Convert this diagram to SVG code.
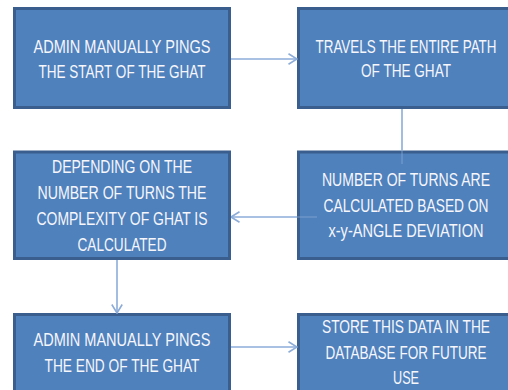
<svg xmlns="http://www.w3.org/2000/svg" width="508" height="390" viewBox="0 0 508 390">
  <defs>
    <style>
      .box { fill: #4f81bd; stroke: #3a5f8e; stroke-width: 3; }
      .lbl { font-family: "Liberation Sans", Arial, sans-serif; font-size: 18.5px; fill: #f6f6fb; text-anchor: middle; }
      .con { fill: none; stroke: #8cacd8; stroke-width: 1.6; }
      .inner { stroke-opacity: 0.45; }
    </style>
    <marker id="open" viewBox="0 0 10 12" refX="9.5" refY="6" markerWidth="10" markerHeight="12" markerUnits="userSpaceOnUse" orient="auto">
      <path d="M1,0.8 L9.5,6 L1,11.2" fill="none" stroke="#8cacd8" stroke-width="1.6"/>
    </marker>
  </defs>
  <rect width="508" height="390" fill="#ffffff"/>

  <g id="admin-start">
    <rect class="box" x="14.5" y="8.5" width="215" height="99"/>
    <text class="lbl" x="122" y="53" textLength="177" lengthAdjust="spacingAndGlyphs">ADMIN MANUALLY PINGS</text>
    <text class="lbl" x="122" y="78" textLength="167" lengthAdjust="spacingAndGlyphs">THE START OF THE GHAT</text>
  </g>

  <g id="travel-path">
    <rect class="box" x="298.5" y="8.5" width="211" height="99"/>
    <text class="lbl" x="406" y="53" textLength="181" lengthAdjust="spacingAndGlyphs">TRAVELS THE ENTIRE PATH</text>
    <text class="lbl" x="406" y="77" textLength="90" lengthAdjust="spacingAndGlyphs">OF THE GHAT</text>
  </g>

  <g id="complexity">
    <rect class="box" x="14.5" y="152" width="215" height="106.5"/>
    <text class="lbl" x="122" y="173" textLength="140" lengthAdjust="spacingAndGlyphs">DEPENDING ON THE</text>
    <text class="lbl" x="122" y="199" textLength="169" lengthAdjust="spacingAndGlyphs">NUMBER OF TURNS THE</text>
    <text class="lbl" x="122" y="225" textLength="171" lengthAdjust="spacingAndGlyphs">COMPLEXITY OF GHAT IS</text>
    <text class="lbl" x="122" y="251" textLength="89" lengthAdjust="spacingAndGlyphs">CALCULATED</text>
  </g>

  <g id="turns">
    <rect class="box" x="298.5" y="152" width="211" height="106.5"/>
    <text class="lbl" x="406" y="186" textLength="168" lengthAdjust="spacingAndGlyphs">NUMBER OF TURNS ARE</text>
    <text class="lbl" x="406" y="212" textLength="165" lengthAdjust="spacingAndGlyphs">CALCULATED BASED ON</text>
    <text class="lbl" x="406" y="237" textLength="155" lengthAdjust="spacingAndGlyphs">x-y-ANGLE DEVIATION</text>
  </g>

  <g id="admin-end">
    <rect class="box" x="14.5" y="314.5" width="215" height="77"/>
    <text class="lbl" x="122" y="346" textLength="177" lengthAdjust="spacingAndGlyphs">ADMIN MANUALLY PINGS</text>
    <text class="lbl" x="122" y="372" textLength="155" lengthAdjust="spacingAndGlyphs">THE END OF THE GHAT</text>
  </g>

  <g id="store">
    <rect class="box" x="298.5" y="314.5" width="211" height="77"/>
    <text class="lbl" x="406" y="333" textLength="168" lengthAdjust="spacingAndGlyphs">STORE THIS DATA IN THE</text>
    <text class="lbl" x="406" y="359" textLength="161" lengthAdjust="spacingAndGlyphs">DATABASE FOR FUTURE</text>
    <text class="lbl" x="406" y="384" textLength="26" lengthAdjust="spacingAndGlyphs">USE</text>
  </g>

  <g id="connectors">
    <line class="con" x1="231" y1="59" x2="297" y2="59" marker-end="url(#open)"/>
    <line class="con" x1="402" y1="109" x2="402" y2="151"/>
    <line class="con inner" x1="402" y1="151" x2="402" y2="164"/>
    <line class="con inner" x1="317" y1="217" x2="297" y2="217"/>
    <line class="con" x1="297" y1="217" x2="231" y2="217" marker-end="url(#open)"/>
    <line class="con" x1="117" y1="260" x2="117" y2="313" marker-end="url(#open)"/>
    <line class="con" x1="231" y1="347" x2="297" y2="347" marker-end="url(#open)"/>
  </g>
</svg>
